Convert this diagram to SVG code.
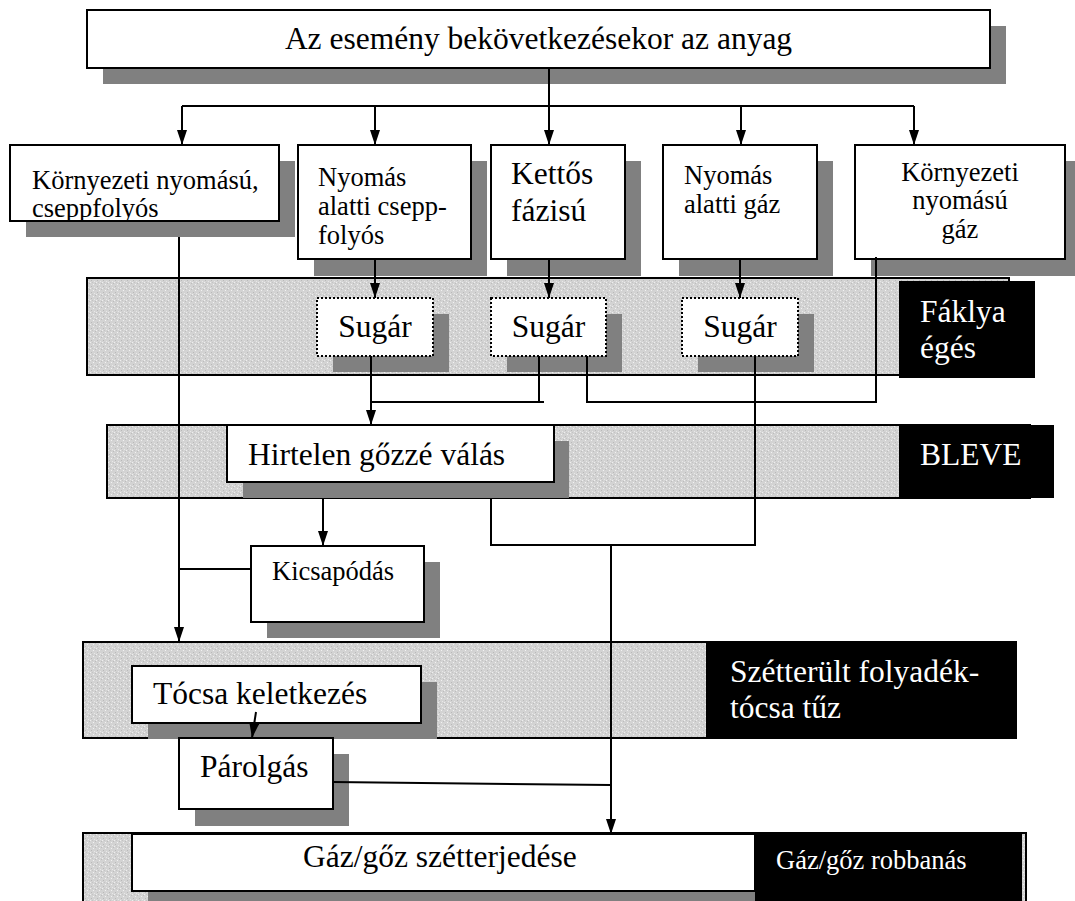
<svg xmlns="http://www.w3.org/2000/svg" width="1075" height="901" viewBox="0 0 1075 901">
<defs>
<pattern id="tex" width="6" height="6" patternUnits="userSpaceOnUse">
<rect width="6" height="6" fill="#d3d3d3"/>
<rect x="0" y="0" width="1" height="1" fill="#efefef"/>
<rect x="3" y="2" width="1" height="1" fill="#f2f2f2"/>
<rect x="1" y="4" width="1" height="1" fill="#b9b9b9"/>
<rect x="4" y="5" width="1" height="1" fill="#e8e8e8"/>
<rect x="5" y="1" width="1" height="1" fill="#bdbdbd"/>
<rect x="2" y="0" width="1" height="1" fill="#c4c4c4"/>
</pattern>
<marker id="ah" markerUnits="userSpaceOnUse" viewBox="0 0 15 10" markerWidth="15" markerHeight="10" refX="15" refY="5" orient="auto">
<path d="M0,0 L15,5 L0,10 z" fill="#000"/>
</marker>
<clipPath id="clip1"><rect x="10" y="145" width="269" height="75"/></clipPath>
</defs>
<style>
.box{fill:#fff;stroke:#000;stroke-width:2}
.dot{fill:#fff;stroke:#000;stroke-width:2;stroke-dasharray:2 2}
.sh{fill:#808080}
.band{fill:url(#tex);stroke:#000;stroke-width:2}
.blk{fill:#000}
.t{font-family:"Liberation Serif","Times New Roman",serif;fill:#000}
.big{font-size:31.5px}
.sm{font-size:26.5px}
.w{fill:#fff}
.c{text-anchor:middle}
.ln{fill:none;stroke:#000;stroke-width:2}
.ar{marker-end:url(#ah)}
</style>

<g id="band-faklya">
<rect class="band" x="87" y="278" width="922" height="97"/>
<rect class="blk" x="899" y="281" width="136" height="97"/>
<text class="t big w" x="920" y="322">Fáklya</text>
<text class="t big w" x="920" y="358">égés</text>
</g>
<g id="band-bleve">
<rect class="band" x="107" y="425" width="923" height="73"/>
<rect class="blk" x="899" y="425" width="155" height="73"/>
<text class="t big w" x="920" y="465">BLEVE</text>
</g>
<g id="band-tocsatuz">
<rect class="band" x="83" y="642" width="933" height="96"/>
<rect class="blk" x="706" y="641" width="310" height="97"/>
<text class="t big w" x="730" y="682">Szétterült folyadék-</text>
<text class="t big w" x="730" y="718">tócsa tűz</text>
</g>
<g id="band-robbanas">
<rect class="band" x="83" y="833" width="943" height="90"/>
<rect class="blk" x="755" y="833" width="267" height="70"/>
<text class="t sm w" x="776" y="869">Gáz/gőz robbanás</text>
</g>

<g id="n-top">
<rect class="sh" x="103" y="26" width="903" height="58"/>
<rect class="box" x="87" y="10" width="903" height="58"/>
<text class="t big c" x="538.5" y="49">Az esemény bekövetkezésekor az anyag</text>
</g>
<g id="n-kornyezeti-csepp">
<rect class="sh" x="26" y="161" width="269" height="76"/>
<rect class="box" x="10" y="145" width="269" height="76"/>
<g clip-path="url(#clip1)">
<text class="t sm" x="32" y="189">Környezeti nyomású,</text>
<text class="t sm" x="32" y="217">cseppfolyós</text>
</g>
</g>
<g id="n-nyomas-csepp">
<rect class="sh" x="314" y="161" width="173" height="115"/>
<rect class="box" x="298" y="145" width="173" height="114"/>
<text class="t sm" x="318" y="186">Nyomás</text>
<text class="t sm" x="318" y="215">alatti csepp-</text>
<text class="t sm" x="318" y="244">folyós</text>
</g>
<g id="n-kettos">
<rect class="sh" x="507" y="161" width="134" height="115"/>
<rect class="box" x="491" y="145" width="134" height="114"/>
<text class="t big" x="511" y="184">Kettős</text>
<text class="t big" x="511" y="221">fázisú</text>
</g>
<g id="n-nyomas-gaz">
<rect class="sh" x="679" y="161" width="154" height="115"/>
<rect class="box" x="663" y="145" width="154" height="114"/>
<text class="t sm" x="684" y="184">Nyomás</text>
<text class="t sm" x="684" y="213">alatti gáz</text>
</g>
<g id="n-kornyezeti-gaz">
<rect class="sh" x="871" y="161" width="210" height="115"/>
<rect class="box" x="855" y="145" width="210" height="114"/>
<text class="t sm c" x="960" y="181">Környezeti</text>
<text class="t sm c" x="960" y="209">nyomású</text>
<text class="t sm c" x="960" y="238">gáz</text>
</g>

<g id="n-sugar1">
<rect class="sh" x="333" y="314" width="116" height="58"/>
<rect class="dot" x="317" y="298" width="116" height="58"/>
<text class="t big c" x="375" y="337">Sugár</text>
</g>
<g id="n-sugar2">
<rect class="sh" x="507" y="314" width="115" height="58"/>
<rect class="dot" x="491" y="298" width="115" height="58"/>
<text class="t big c" x="548.5" y="337">Sugár</text>
</g>
<g id="n-sugar3">
<rect class="sh" x="698" y="314" width="116" height="58"/>
<rect class="dot" x="682" y="298" width="116" height="58"/>
<text class="t big c" x="740" y="337">Sugár</text>
</g>

<g id="n-hirtelen">
<rect class="sh" x="243" y="441" width="326" height="57"/>
<rect class="box" x="227" y="425" width="327" height="57"/>
<text class="t big" x="248" y="465">Hirtelen gőzzé válás</text>
</g>
<g id="n-kicsapodas">
<rect class="sh" x="267" y="562" width="173" height="76"/>
<rect class="box" x="251" y="546" width="173" height="76"/>
<text class="t sm" x="272" y="580">Kicsapódás</text>
</g>
<g id="n-tocsa">
<rect class="sh" x="148" y="682" width="289" height="57"/>
<rect class="box" x="132" y="666" width="289" height="57"/>
<text class="t big" x="153" y="704">Tócsa keletkezés</text>
</g>
<g id="n-parolgas">
<rect class="sh" x="195" y="754" width="154" height="72"/>
<rect class="box" x="179" y="738" width="154" height="71"/>
<text class="t big" x="200" y="777">Párolgás</text>
</g>
<g id="n-szetterjedes">
<rect class="sh" x="148" y="850" width="607" height="57"/>
<rect class="box" x="132" y="834" width="623" height="57"/>
<text class="t big" x="303" y="867">Gáz/gőz szétterjedése</text>
</g>

<g id="connectors">
<path class="ln" d="M549,68 V106 M182,106 H914"/>
<path class="ln ar" d="M182,106 V145"/>
<path class="ln ar" d="M375,106 V145"/>
<path class="ln ar" d="M549,106 V145"/>
<path class="ln ar" d="M741,106 V145"/>
<path class="ln ar" d="M914,106 V145"/>
<path class="ln ar" d="M375,259 V298"/>
<path class="ln ar" d="M549,259 V298"/>
<path class="ln ar" d="M740,259 V298"/>
<path class="ln ar" d="M371,356 V425"/>
<path class="ln" d="M371,402 H544 M539,356 V402"/>
<path class="ln" d="M587,356 V402 H876 V257"/>
<path class="ln" d="M755,356 V545 H491 V498"/>
<path class="ln ar" d="M323,498 V546"/>
<path class="ln ar" d="M611,545 V834"/>
<path class="ln ar" d="M179,237 V642"/>
<path class="ln" d="M179,569 H251"/>
<path class="ln ar" d="M256,712 L252,738"/>
<path class="ln" d="M333,782 L611,785"/>
</g>
</svg>
